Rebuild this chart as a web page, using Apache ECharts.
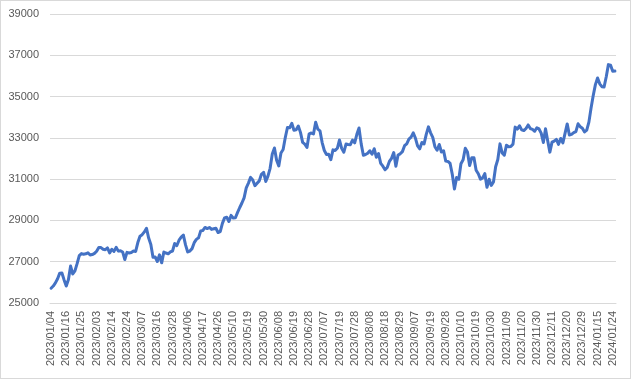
<!DOCTYPE html>
<html><head><meta charset="utf-8">
<script src="https://cdn.jsdelivr.net/npm/echarts@6/dist/echarts.min.js"></script>
<style>
html,body{margin:0;padding:0;background:#fff;}
#c{width:631px;height:379px;box-sizing:border-box;border:1px solid #d9d9d9;}
</style></head>
<body><div id="c"></div>
<script>
const dates = [
"2023/01/04","2023/01/05","2023/01/06","2023/01/10","2023/01/11","2023/01/12","2023/01/13","2023/01/16","2023/01/17","2023/01/18","2023/01/19","2023/01/20","2023/01/23","2023/01/24","2023/01/25","2023/01/26","2023/01/27","2023/01/30","2023/01/31",
"2023/02/01","2023/02/02","2023/02/03","2023/02/06","2023/02/07","2023/02/08","2023/02/09","2023/02/10","2023/02/13","2023/02/14","2023/02/15","2023/02/16","2023/02/17","2023/02/20","2023/02/21","2023/02/22","2023/02/24","2023/02/27","2023/02/28",
"2023/03/01","2023/03/02","2023/03/03","2023/03/06","2023/03/07","2023/03/08","2023/03/09","2023/03/10","2023/03/13","2023/03/14","2023/03/15","2023/03/16","2023/03/17","2023/03/20","2023/03/22","2023/03/23","2023/03/24","2023/03/27","2023/03/28","2023/03/29","2023/03/30","2023/03/31",
"2023/04/03","2023/04/04","2023/04/05","2023/04/06","2023/04/07","2023/04/10","2023/04/11","2023/04/12","2023/04/13","2023/04/14","2023/04/17","2023/04/18","2023/04/19","2023/04/20","2023/04/21","2023/04/24","2023/04/25","2023/04/26","2023/04/27","2023/04/28",
"2023/05/01","2023/05/02","2023/05/08","2023/05/09","2023/05/10","2023/05/11","2023/05/12","2023/05/15","2023/05/16","2023/05/17","2023/05/18","2023/05/19","2023/05/22","2023/05/23","2023/05/24","2023/05/25","2023/05/26","2023/05/29","2023/05/30","2023/05/31",
"2023/06/01","2023/06/02","2023/06/05","2023/06/06","2023/06/07","2023/06/08","2023/06/09","2023/06/12","2023/06/13","2023/06/14","2023/06/15","2023/06/16","2023/06/19","2023/06/20","2023/06/21","2023/06/22","2023/06/23","2023/06/26","2023/06/27","2023/06/28","2023/06/29","2023/06/30",
"2023/07/03","2023/07/04","2023/07/05","2023/07/06","2023/07/07","2023/07/10","2023/07/11","2023/07/12","2023/07/13","2023/07/14","2023/07/18","2023/07/19","2023/07/20","2023/07/21","2023/07/24","2023/07/25","2023/07/26","2023/07/27","2023/07/28","2023/07/31",
"2023/08/01","2023/08/02","2023/08/03","2023/08/04","2023/08/07","2023/08/08","2023/08/09","2023/08/10","2023/08/14","2023/08/15","2023/08/16","2023/08/17","2023/08/18","2023/08/21","2023/08/22","2023/08/23","2023/08/24","2023/08/25","2023/08/28","2023/08/29","2023/08/30","2023/08/31",
"2023/09/01","2023/09/04","2023/09/05","2023/09/06","2023/09/07","2023/09/08","2023/09/11","2023/09/12","2023/09/13","2023/09/14","2023/09/15","2023/09/19","2023/09/20","2023/09/21","2023/09/22","2023/09/25","2023/09/26","2023/09/27","2023/09/28","2023/09/29",
"2023/10/02","2023/10/03","2023/10/04","2023/10/05","2023/10/06","2023/10/10","2023/10/11","2023/10/12","2023/10/13","2023/10/16","2023/10/17","2023/10/18","2023/10/19","2023/10/20","2023/10/23","2023/10/24","2023/10/25","2023/10/26","2023/10/27","2023/10/30","2023/10/31",
"2023/11/01","2023/11/02","2023/11/06","2023/11/07","2023/11/08","2023/11/09","2023/11/10","2023/11/13","2023/11/14","2023/11/15","2023/11/16","2023/11/17","2023/11/20","2023/11/21","2023/11/22","2023/11/24","2023/11/27","2023/11/28","2023/11/29","2023/11/30",
"2023/12/01","2023/12/04","2023/12/05","2023/12/06","2023/12/07","2023/12/08","2023/12/11","2023/12/12","2023/12/13","2023/12/14","2023/12/15","2023/12/18","2023/12/19","2023/12/20","2023/12/21","2023/12/22","2023/12/25","2023/12/26","2023/12/27","2023/12/28","2023/12/29",
"2024/01/04","2024/01/05","2024/01/09","2024/01/10","2024/01/11","2024/01/12","2024/01/15","2024/01/16","2024/01/17","2024/01/18","2024/01/19","2024/01/22","2024/01/23","2024/01/24","2024/01/25"
];
const values = [
25717,25821,25974,26176,26446,26450,26120,25822,26139,26791,26405,26554,26906,27299,27395,27363,27383,27433,27327,
27347,27402,27509,27694,27685,27606,27584,27671,27427,27603,27502,27696,27513,27532,27473,27104,27453,27424,27446,
27517,27499,27927,28238,28309,28444,28623,28144,27833,27222,27229,27011,27334,26946,27467,27420,27385,27477,27518,27884,27783,28041,
28188,28287,27813,27473,27518,27634,27923,28083,28157,28493,28515,28659,28607,28658,28564,28594,28620,28416,28458,28856,
29123,29158,28950,29243,29122,29127,29388,29626,29843,30094,30574,30808,31087,30958,30683,30801,30916,31234,31328,30888,
31148,31524,32217,32507,31914,31641,32265,32434,33019,33502,33485,33706,33370,33389,33575,33265,32782,32699,32538,33194,33234,33189,
33753,33423,33339,32773,32388,32190,32204,31944,32419,32391,32494,32896,32491,32304,32701,32683,32668,32891,32759,33172,
33477,32708,32159,32193,32255,32377,32204,32474,32060,32239,31767,31626,31451,31566,31857,32010,32287,31624,32170,32227,32333,32619,
32711,32939,33037,33241,32991,32607,32468,32776,32707,33168,33533,33243,33024,32571,32402,32679,32315,32372,31873,31858,
31760,31238,30527,31075,30995,31747,31937,32495,32316,31659,32040,32042,31431,31259,31000,31062,31270,30602,30992,30697,30859,
31602,31950,32708,32272,32166,32646,32568,32585,32696,33520,33424,33585,33388,33354,33452,33626,33448,33408,33321,33487,
33432,33231,32776,33446,32858,32308,32792,32844,32926,32686,32971,32759,33219,33676,33140,33169,33254,33306,33681,33540,33464,
33288,33377,33763,34442,35050,35577,35902,35619,35478,35466,35963,36547,36518,36226,36236
];
const yMin = 25000, yMax = 39000, yStep = 2000;

const chart = echarts.init(document.getElementById('c'), null, {renderer:'canvas'});
chart.setOption({
  animation:false,
  backgroundColor:'#ffffff',
  grid:{left:49,right:14,top:13,bottom:75,containLabel:false},
  xAxis:{
    type:'category', data:dates, boundaryGap:true,
    axisLine:{show:true,lineStyle:{color:'#d9d9d9',width:1}},
    axisTick:{show:false},
    axisLabel:{interval:6,rotate:90,color:'#595959',fontSize:11,fontFamily:'Liberation Sans, Arial',margin:8},
    splitLine:{show:false}
  },
  yAxis:{
    type:'value', min:yMin, max:yMax, interval:yStep,
    axisLine:{show:false}, axisTick:{show:false},
    axisLabel:{color:'#595959',fontSize:11,fontFamily:'Liberation Sans, Arial',margin:11,formatter:function(v){return String(v);}},
    splitLine:{lineStyle:{color:'#d9d9d9',width:1}}
  },
  series:[{
    type:'line', data:values, showSymbol:false, smooth:false,
    lineStyle:{color:'#4472C4',width:3,cap:'round',join:'round'},
    itemStyle:{color:'#4472C4'}
  }]
});
</script></body></html>
